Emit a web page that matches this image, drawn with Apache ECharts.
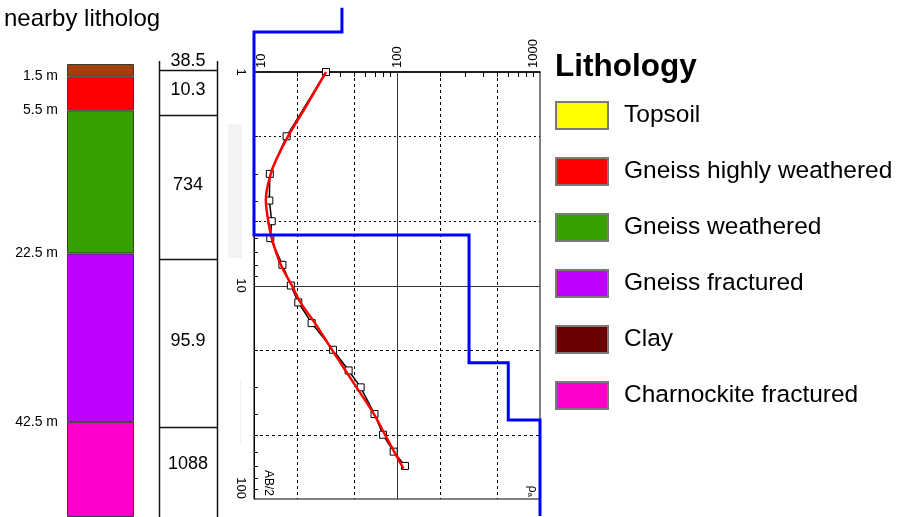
<!DOCTYPE html>
<html>
<head>
<meta charset="utf-8">
<script src="https://cdn.jsdelivr.net/npm/echarts@6/dist/echarts.min.js"></script>
<style>
  html, body { margin: 0; padding: 0; background: #fff; }
  #chart { width: 903px; height: 517px; }
</style>
</head>
<body>
<div id="chart"></div>
<script>
// ---- Borehole litholog (thickness of each layer, m) ----
const lithoLayers = ['Top cover', 'Gneiss highly weathered', 'Gneiss weathered', 'Gneiss fractured', 'Charnockite fractured'];
const lithoThickness = [1.5, 4, 17, 20, 11.3];
const lithoDepthLabels = [1.5, 5.5, 22.5, 42.5];
const lithoDepthMax = 53.8;

// ---- Legend entries ----
const legendNames = ['Topsoil', 'Gneiss highly weathered', 'Gneiss weathered', 'Gneiss fractured', 'Clay', 'Charnockite fractured'];
const lithoColors = {
  'Top cover': '#A23F0B',
  'Topsoil': '#FFFF00',
  'Gneiss highly weathered': '#FF0000',
  'Gneiss weathered': '#36A000',
  'Gneiss fractured': '#BF00FF',
  'Clay': '#6B0000',
  'Charnockite fractured': '#FF00CC'
};

// ---- Interpreted layer resistivities (ohm-m) and layer bottoms (m) ----
const layerBottoms = [0.72, 6.06, 23.17, 43.1, 52.3];
const layerRho = ['38.5', '10.3', '734', '95.9', '1088'];

// ---- Field sounding: AB/2 (m) vs apparent resistivity (ohm-m) ----
const abHalf = [1, 2, 3, 4, 5, 6, 8, 10, 12, 15, 20, 25, 30, 40, 50, 60, 70];
const rhoApparent = [31.9, 16.9, 12.9, 12.8, 13.3, 13.0, 15.8, 18.1, 20.4, 25.3, 35.7, 45.9, 55.7, 69.6, 79.8, 94.8, 113.7];

// ---- Model response curve ----
const abModel = [1, 1.5, 2, 2.5, 3, 4, 5, 6, 8, 10, 12, 15, 20, 25, 30, 40, 50, 60, 72];
const rhoModel = [31.9, 22.4, 17.3, 14.6, 13.1, 12.1, 12.6, 13.3, 15.4, 18.4, 21.1, 26.7, 35.1, 43.6, 52.1, 69.0, 82.4, 95.5, 111];

// ---- Layered model (step curve) ----
const stepRho = [41.2, 10, 319, 600, 1000];
const stepDepth = [0.5, 0.65, 5.8, 23, 42.7, 120];

// ---- Sounding axes, grid lines and minor ticks ----
const rhoMin = 10, rhoMax = 1000, abMin = 1, abMax = 100;
const rhoGridDashed = [20, 50, 200, 500];
const rhoGridSolid = [100];
const abGridDotted = [2, 5];
const abGridSolid = [10];
const abGridDashed = [20, 50];
const rhoTicks = [20, 30, 40, 50, 60, 70, 80, 90, 200, 300, 400, 500, 600, 700, 800, 900];
const abTicks = [2, 3, 4, 5, 6, 7, 8, 9, 20, 30, 40, 50, 60, 70, 80, 90];

const FONT = '"Liberation Sans", Arial, Helvetica, sans-serif';
const dashStyles = [null, [3, 3], [2, 3]];

// step points of the layered model
const stepPoints = [];
stepRho.forEach((r, i) => {
  stepPoints.push([r, stepDepth[i]]);
  stepPoints.push([r, stepDepth[i + 1]]);
});

// grid line records: [x, y, orientation(0 = vertical, 1 = horizontal), dash style]
const gridLines = [];
rhoGridSolid.forEach(v => gridLines.push([v, abMin, 0, 0]));
rhoGridDashed.forEach(v => gridLines.push([v, abMin, 0, 1]));
abGridSolid.forEach(v => gridLines.push([rhoMin, v, 1, 0]));
abGridDotted.forEach(v => gridLines.push([rhoMin, v, 1, 2]));
abGridDashed.forEach(v => gridLines.push([rhoMin, v, 1, 1]));

const tickMarks = [];
rhoTicks.forEach(v => tickMarks.push([v, abMin, 0]));
abTicks.forEach(v => tickMarks.push([rhoMin, v, 1]));

// resistivity column records: [x, top, bottom, index]
const columnTop = -0.35;
const columnData = layerBottoms.map((b, i) => [0, i === 0 ? columnTop : layerBottoms[i - 1], b, i]);

const crisp = v => Math.round(v) + 0.5;

const lithoSeries = lithoLayers.map((name, i) => ({
  name: name,
  type: 'bar',
  stack: 'litho',
  xAxisIndex: 0,
  yAxisIndex: 0,
  barWidth: '100%',
  data: [lithoThickness[i]],
  itemStyle: { color: lithoColors[name], borderColor: '#3a3a3a', borderWidth: 1 },
  silent: true
}));
// legend-only lithologies (not present in this borehole)
['Topsoil', 'Clay'].forEach(name => lithoSeries.push({
  name: name, type: 'bar', stack: 'litho', xAxisIndex: 0, yAxisIndex: 0, data: [],
  itemStyle: { color: lithoColors[name] }
}));

const chart = echarts.init(document.getElementById('chart'), null, { renderer: 'canvas' });

chart.setOption({
  animation: false,
  backgroundColor: '#fff',
  textStyle: { fontFamily: FONT, color: '#000' },
  title: [
    { text: 'nearby litholog', left: 4, top: 7, padding: 0,
      textStyle: { fontFamily: FONT, fontSize: 24, fontWeight: 'normal', color: '#000' } },
    { text: 'Lithology', left: 555, top: 51, padding: 0,
      textStyle: { fontFamily: FONT, fontSize: 31.5, fontWeight: 'bold', color: '#000' } }
  ],
  legend: {
    orient: 'vertical',
    left: 555,
    top: 101,
    padding: 0,
    itemWidth: 52,
    itemHeight: 27,
    itemGap: 27,
    icon: 'rect',
    selectedMode: false,
    data: legendNames,
    itemStyle: { borderColor: '#7a7a7a', borderWidth: 2 },
    textStyle: { fontFamily: FONT, fontSize: 24.5, color: '#000', padding: [0, 0, 0, 11] }
  },
  grid: [
    { left: 67, top: 64, width: 67, bottom: 0, outerBoundsMode: 'none' },
    { left: 159, top: 61, width: 58, bottom: 0, outerBoundsMode: 'none' },
    { left: 254, top: 72, width: 286, height: 427, outerBoundsMode: 'none',
      show: true, borderColor: '#000', borderWidth: 1, backgroundColor: 'transparent' }
  ],
  xAxis: [
    { type: 'category', gridIndex: 0, data: [''], show: false },
    { type: 'value', gridIndex: 1, min: 0, max: 1, show: false },
    {
      type: 'log', gridIndex: 2, logBase: 10, min: rhoMin, max: rhoMax, position: 'top',
      axisLine: { show: true, lineStyle: { color: '#000', width: 1.5 } },
      axisTick: { show: false },
      splitLine: { show: false },
      axisLabel: {
        rotate: -90, margin: 4, fontSize: 13, color: '#000', fontFamily: FONT, lineHeight: 14,
        formatter: v => {
          const n = Math.round(v);
          if (n === rhoMin) return ' \n' + n;
          if (n === rhoMax) return n + '\n ';
          return String(n);
        }
      }
    }
  ],
  yAxis: [
    {
      type: 'value', gridIndex: 0, inverse: true, min: 0, max: lithoDepthMax,
      axisLine: { show: false }, axisTick: { show: false }, splitLine: { show: false },
      axisLabel: {
        customValues: lithoDepthLabels, formatter: '{value} m',
        fontSize: 14, margin: 9, color: '#000', fontFamily: FONT
      }
    },
    { type: 'value', gridIndex: 1, inverse: true, min: columnTop, max: lithoDepthMax, show: false },
    {
      type: 'log', gridIndex: 2, logBase: 10, min: abMin, max: abMax, inverse: true,
      axisLine: { show: true, lineStyle: { color: '#000', width: 1 } },
      axisTick: { show: false },
      splitLine: { show: false },
      axisLabel: {
        rotate: -90, margin: 7, fontSize: 13, color: '#000', fontFamily: FONT,
        formatter: v => {
          const n = Math.round(v);
          return n === abMax ? n + '      ' : String(n);
        }
      }
    }
  ],
  graphic: [
    { type: 'rect', shape: { x: 228, y: 124, width: 14, height: 134 }, style: { fill: '#F4F3F1' }, silent: true, z: 0 },
    { type: 'line', shape: { x1: 240.5, y1: 380, x2: 240.5, y2: 445 }, style: { stroke: '#EFEFEF', lineWidth: 1 }, silent: true, z: 0 },
    { type: 'text', x: 268, y: 496, rotation: -Math.PI / 2, silent: true, z: 10,
      style: { text: 'AB/2', fontSize: 12, fontFamily: FONT, fill: '#000', align: 'right', verticalAlign: 'middle' } },
    { type: 'text', x: 532, y: 497, rotation: -Math.PI / 2, silent: true, z: 10,
      style: { text: '{r|ρ}{s|a}', fontFamily: FONT, fill: '#000', align: 'right', verticalAlign: 'middle',
        rich: { r: { fontSize: 12, fontFamily: FONT }, s: { fontSize: 8, fontFamily: FONT, verticalAlign: 'bottom' } } } }
  ],
  series: [
    ...lithoSeries,
    {
      // resistivity column
      type: 'custom', xAxisIndex: 1, yAxisIndex: 1, silent: true,
      data: columnData,
      renderItem: (params, api) => {
        const top = api.value(1), bot = api.value(2), idx = api.value(3);
        const last = idx === layerRho.length - 1;
        const a = api.coord([0, top]);
        const b = api.coord([1, bot]);
        const yEnd = last ? api.coord([1, lithoDepthMax])[1] : b[1];
        const xl = crisp(a[0]), xr = crisp(b[0]);
        const ln = { stroke: '#111', lineWidth: 1.5 };
        const children = [
          { type: 'line', shape: { x1: xl, y1: a[1], x2: xl, y2: yEnd }, style: ln },
          { type: 'line', shape: { x1: xr, y1: a[1], x2: xr, y2: yEnd }, style: ln }
        ];
        if (!last) children.push({ type: 'line', shape: { x1: xl, y1: crisp(b[1]), x2: xr, y2: crisp(b[1]) }, style: ln });
        const ty = idx === 0 ? b[1] - 9 : (a[1] + b[1]) / 2 - 2;
        children.push({
          type: 'text', x: (a[0] + b[0]) / 2, y: ty,
          style: { text: layerRho[idx], fontSize: 18, fontFamily: FONT, fill: '#000', align: 'center', verticalAlign: 'middle' }
        });
        return { type: 'group', children: children };
      }
    },
    {
      // sounding grid lines
      type: 'custom', xAxisIndex: 2, yAxisIndex: 2, silent: true, z: 1,
      encode: { x: 0, y: 1 },
      data: gridLines,
      renderItem: (params, api) => {
        const dir = api.value(2), st = api.value(3);
        let p1, p2;
        if (dir === 0) {
          p1 = api.coord([api.value(0), abMin]); p2 = api.coord([api.value(0), abMax]);
          p1[0] = p2[0] = crisp(p1[0]);
        } else {
          p1 = api.coord([rhoMin, api.value(1)]); p2 = api.coord([rhoMax, api.value(1)]);
          p1[1] = p2[1] = crisp(p1[1]);
        }
        return { type: 'line', shape: { x1: p1[0], y1: p1[1], x2: p2[0], y2: p2[1] },
          style: { stroke: st === 0 ? '#333' : '#000', lineWidth: 1, lineDash: dashStyles[st] } };
      }
    },
    {
      // inner minor ticks of the log axes
      type: 'custom', xAxisIndex: 2, yAxisIndex: 2, silent: true, z: 1,
      encode: { x: 0, y: 1 },
      data: tickMarks,
      renderItem: (params, api) => {
        const dir = api.value(2);
        const p = api.coord([api.value(0), api.value(1)]);
        if (dir === 0) {
          const x = crisp(p[0]);
          return { type: 'line', shape: { x1: x, y1: p[1], x2: x, y2: p[1] + 5 }, style: { stroke: '#000', lineWidth: 1 } };
        }
        const y = crisp(p[1]);
        return { type: 'line', shape: { x1: p[0], y1: y, x2: p[0] + 4, y2: y }, style: { stroke: '#000', lineWidth: 1 } };
      }
    },
    {
      name: 'Measured',
      type: 'line', xAxisIndex: 2, yAxisIndex: 2, z: 3,
      data: abHalf.map((a, i) => [rhoApparent[i], a]),
      symbol: 'rect', symbolSize: 7, showAllSymbol: true,
      lineStyle: { color: '#000', width: 1.5 },
      itemStyle: { color: '#fff', borderColor: '#000', borderWidth: 1 },
      silent: true
    },
    {
      name: 'Model response',
      type: 'line', xAxisIndex: 2, yAxisIndex: 2, z: 4,
      data: abModel.map((a, i) => [rhoModel[i], a]),
      symbol: 'none', smooth: 0.4,
      lineStyle: { color: '#FF0000', width: 2.5 },
      silent: true
    },
    {
      name: 'Layered model',
      type: 'line', xAxisIndex: 2, yAxisIndex: 2, z: 5,
      data: stepPoints,
      symbol: 'none', clip: false,
      lineStyle: { color: '#0000FF', width: 3, cap: 'butt', join: 'miter' },
      silent: true
    }
  ]
});
</script>
</body>
</html>
